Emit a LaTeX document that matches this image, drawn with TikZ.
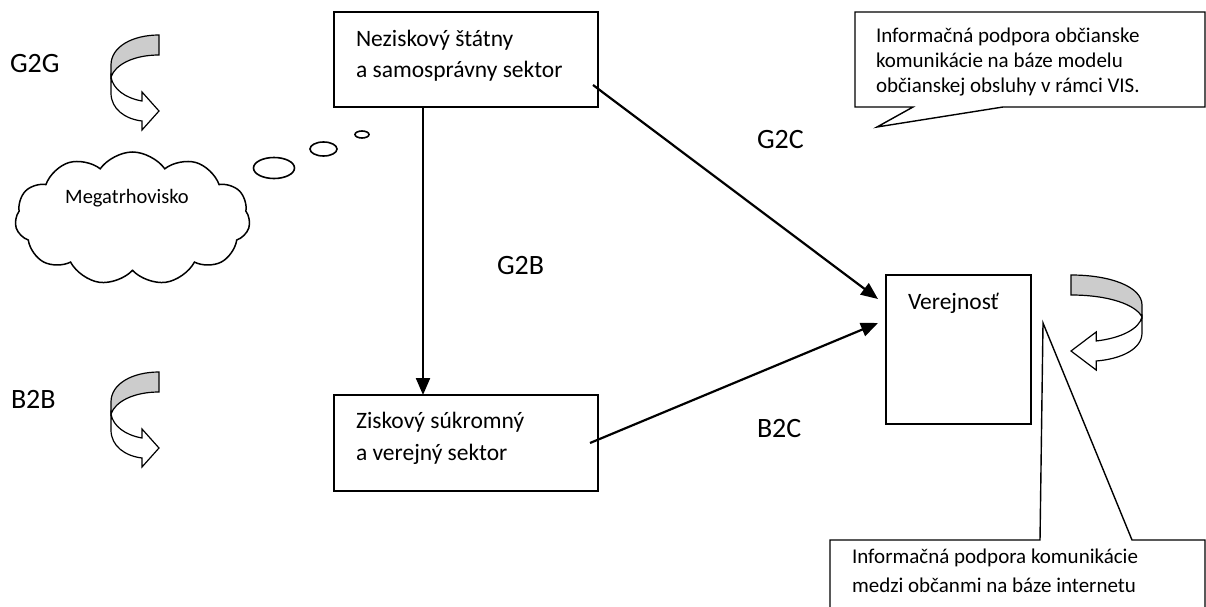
\documentclass[tikz,border=0pt]{standalone}
\usepackage{fontspec}
\setmainfont{Carlito}
\usetikzlibrary{shapes.symbols,shapes.geometric,arrows.meta}
\begin{document}
\begin{tikzpicture}[x=1pt,y=-1pt,
  boxnode/.style={draw, line width=1.4pt, inner sep=0pt, outer sep=0pt},
  txt/.style={anchor=base west, inner sep=0pt, outer sep=0pt, font=\fontsize{23.5}{28}\selectfont},
  ctxt/.style={anchor=base west, inner sep=0pt, outer sep=0pt, font=\fontsize{21}{25}\selectfont},
  lbl/.style={anchor=base west, inner sep=0pt, outer sep=0pt, font=\fontsize{28}{34}\selectfont},
  conn/.style={line width=2.2pt, -{Triangle[length=17pt,width=14pt]}},
  callout/.style={draw, line width=1.4pt, fill=white, line join=miter},
  thought/.style={draw, ellipse, line width=1.6pt, inner sep=0pt},
  pics/carrow/.style={code={
    \draw[line width=1.2pt, fill=white, line join=miter]
      (48,42) -- (48,58) .. controls (48,74) and (34,84) .. (17,86)
      -- (17,95) -- (0,76) -- (17,57) -- (17,66)
      .. controls (34,63) and (46,54) .. (48,42) -- cycle;
    \draw[line width=1.2pt, fill=black!20]
      (0,0) .. controls (27,0) and (48,12) .. (48,30) -- (48,42)
      .. controls (44,30) and (26,20) .. (0,20) -- cycle;
  }}
]
\useasboundingbox (0,0) rectangle (1206,607);
\fill[white] (0,0) rectangle (1206,607);

% callouts
\draw[callout] (855,12) -- (1205,12) -- (1205,107) -- (1003,107) -- (877,127) -- (913,107) -- (855,107) -- cycle;
\node[ctxt] (c1a) at (876,43) {Informačná podpora občianske};
\node[ctxt] (c1b) at (876,68) {komunikácie na báze modelu};
\node[ctxt] (c1c) at (876,93) {občianskej obsluhy v rámci VIS.};

\draw[callout] (830,615) -- (830,540) -- (1040,540) -- (1043,323) -- (1132,540) -- (1205,540) -- (1205,615);
\node[ctxt] (c2a) at (852,563) {Informačná podpora komunikácie};
\node[ctxt] (c2b) at (852,592) {medzi občanmi na báze internetu};

% boxes
\node[boxnode, minimum width=264pt, minimum height=95pt] (box1) at (466,59.5) {};
\node[txt] (b1a) at (356,47) {Neziskový štátny};
\node[txt] (b1b) at (356,78) {a samosprávny sektor};

\node[boxnode, minimum width=264pt, minimum height=96pt] (box2) at (466,443) {};
\node[txt] (b2a) at (356,428) {Ziskový súkromný};
\node[txt] (b2b) at (356,460) {a verejný sektor};

\node[boxnode, minimum width=145pt, minimum height=149pt] (verej) at (958.5,349.5) {};
\node[txt] (vt) at (908,309) {Verejnosť};

% connectors
\draw[conn] ([xshift=-43pt]box1.south) -- ([xshift=-43pt]box2.north);
\draw[conn] ([shift={(-5,-22)}]box1.south east) -- ([shift={(-8,24)}]verej.north west);
\draw[conn] ([shift={(-8,-48)}]box2.south east) -- ([shift={(-8,48)}]verej.north west);

% labels
\node[lbl] (g2g) at (10,73) {G2G};
\node[lbl] (b2b) at (11,408) {B2B};
\node[lbl] (g2c) at (757,148) {G2C};
\node[lbl] (g2b) at (497,274) {G2B};
\node[lbl] (b2c) at (757,437) {B2C};

% cloud and thought bubbles
\node[cloud, draw, line width=1.5pt, cloud puffs=11, cloud puff arc=110, aspect=1.77,
      minimum width=235pt, minimum height=133pt, inner sep=0pt] (cloud) at (132.5,218.5) {};
\node[anchor=base, inner sep=0pt, font=\fontsize{20.5}{24}\selectfont] (mega) at (127,203) {Megatrhovisko};
\node[thought, minimum width=41pt, minimum height=21pt] (th1) at (274,168) {};
\node[thought, minimum width=27pt, minimum height=14pt] (th2) at (323.5,149) {};
\node[thought, minimum width=14pt, minimum height=7pt] (th3) at (362,134.5) {};

% curved arrows
\pic[xscale=-1] at (159,35) {carrow};
\pic[xscale=-1] at (159,372) {carrow};
\pic[xscale=1.479] at (1071,275) {carrow};
\end{tikzpicture}
\end{document}
